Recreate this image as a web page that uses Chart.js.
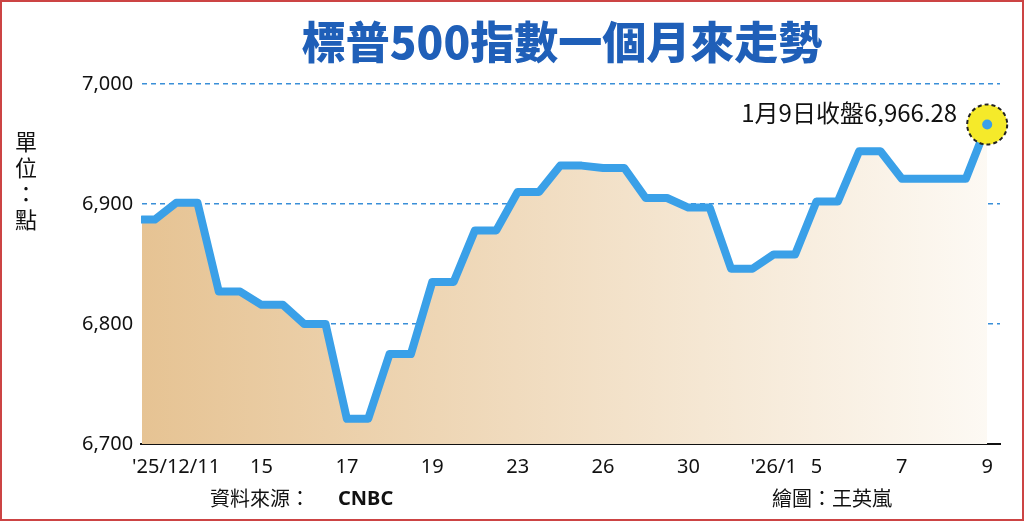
<!DOCTYPE html>
<html>
<head>
<meta charset="utf-8">
<script src="https://cdn.jsdelivr.net/npm/chart.js@4"></script>
<style>
  html, body { margin: 0; padding: 0; background: #fff; }
  #wrap { width: 1024px; height: 521px; position: relative; box-sizing: border-box; border: 2px solid #c44; }
</style>
</head>
<body>
<div id="wrap"><canvas id="chart" width="1020" height="517"></canvas></div>
<script>
// Trading days (index 0 = 12/11) and closing values
const dayIndex = [-1, 0, 1, 2, 3, 4, 5, 6, 7, 8, 9, 10, 11, 12, 13, 14, 15, 16, 17, 18, 19];
const closes = [6887, 6901, 6827, 6816, 6800, 6721, 6775, 6835, 6878, 6910, 6932, 6930, 6905, 6897, 6846, 6858, 6902, 6944, 6921, 6921, 6966.28];
const tickIndex = [0, 2, 4, 6, 8, 10, 12, 14, 15, 17, 19];
const tickLabels = ["'25/12/11", '15', '17', '19', '23', '26', '30', "'26/1", '5', '7', '9'];
const yTicks = [6700, 6800, 6900, 7000];

// each day is held flat for half a day before moving to the next close
const points = [];
dayIndex.forEach((d, i) => {
    const start = i === 0 ? d + 0.2 : d;
    points.push({ x: start, y: closes[i] });
    if (i < dayIndex.length - 1) points.push({ x: d + 0.5, y: closes[i] });
});

const textPlugin = {
    id: 'texts',
    afterDraw(chart) {
        const { ctx, scales } = chart;
        ctx.save();
        ctx.fillStyle = '#1f5fb8';
        ctx.font = '900 44px "Noto Sans CJK TC"';
        ctx.textAlign = 'center';
        ctx.textBaseline = 'middle';
        ctx.fillText('標普500指數一個月來走勢', 560, 40);

        ctx.fillStyle = '#111';
        ctx.font = '22px "Noto Sans CJK TC"';
        ['單', '位', '：', '點'].forEach((c, i) => ctx.fillText(c, 24, 140 + i * 26));

        ctx.font = '20px "Noto Sans CJK TC"';
        ctx.textAlign = 'left';
        ctx.fillText('資料來源：', 208, 496);
        ctx.font = 'bold 20px "Noto Sans"';
        ctx.fillText('CNBC', 336, 497);
        ctx.font = '20px "Noto Sans CJK TC"';
        ctx.fillText('繪圖：王英嵐', 770, 496);

        // last close marker
        const lx = scales.x.getPixelForValue(dayIndex[dayIndex.length - 1]);
        const ly = scales.y.getPixelForValue(closes[closes.length - 1]);
        ctx.beginPath();
        ctx.arc(lx, ly, 20, 0, Math.PI * 2);
        ctx.fillStyle = '#f5ea2a';
        ctx.fill();
        ctx.setLineDash([4, 3]);
        ctx.lineWidth = 2;
        ctx.strokeStyle = '#222';
        ctx.stroke();
        ctx.setLineDash([]);
        ctx.beginPath();
        ctx.arc(lx, ly, 5, 0, Math.PI * 2);
        ctx.fillStyle = '#3aa0e8';
        ctx.fill();

        ctx.fillStyle = '#111';
        ctx.textAlign = 'right';
        ctx.font = '24px "Noto Sans CJK TC"';
        ctx.fillText('1月9日收盤6,966.28', lx - 30, ly - 12);
        ctx.restore();
    }
};

const canvas = document.getElementById('chart');

new Chart(canvas, {
    type: 'line',
    data: {
        datasets: [{
            data: points,
            borderColor: '#3aa0e8',
            borderWidth: 8,
            borderJoinStyle: 'round',
            borderCapStyle: 'round',
            pointRadius: 0,
            tension: 0,
            fill: 'start',
            backgroundColor: (c) => {
                const a = c.chart.chartArea;
                if (!a) return '#f0dcc0';
                const g = c.chart.ctx.createLinearGradient(a.left, 0, a.right, 0);
                g.addColorStop(0, '#e6c393');
                g.addColorStop(1, '#fdfaf5');
                return g;
            }
        }]
    },
    options: {
        responsive: false,
        animation: false,
        layout: { padding: { top: 82, right: 22, bottom: 37, left: 72 } },
        plugins: { legend: { display: false }, tooltip: { enabled: false } },
        scales: {
            x: {
                type: 'linear',
                min: -0.82,
                max: 19.3,
                afterBuildTicks: (s) => { s.ticks = tickIndex.map(v => ({ value: v })); },
                ticks: {
                    autoSkip: false,
                    maxRotation: 0,
                    color: '#111',
                    font: { family: 'Noto Sans', size: 20 },
                    callback: (v) => tickLabels[tickIndex.indexOf(v)]
                },
                grid: { display: false, drawTicks: true },
                border: { color: '#111', width: 2 }
            },
            y: {
                min: 6700,
                max: 7000,
                afterBuildTicks: (s) => { s.ticks = yTicks.map(v => ({ value: v })); },
                ticks: {
                    color: '#111',
                    font: { family: 'Noto Sans', size: 20 },
                    padding: 8,
                    callback: (v) => v.toLocaleString('en-US')
                },
                grid: { color: '#3a8fd8', lineWidth: 1.5, drawTicks: false },
                border: { dash: [5, 4], display: true, color: 'rgba(0,0,0,0)' }
            }
        }
    },
    plugins: [textPlugin]
});
</script>
</body>
</html>
